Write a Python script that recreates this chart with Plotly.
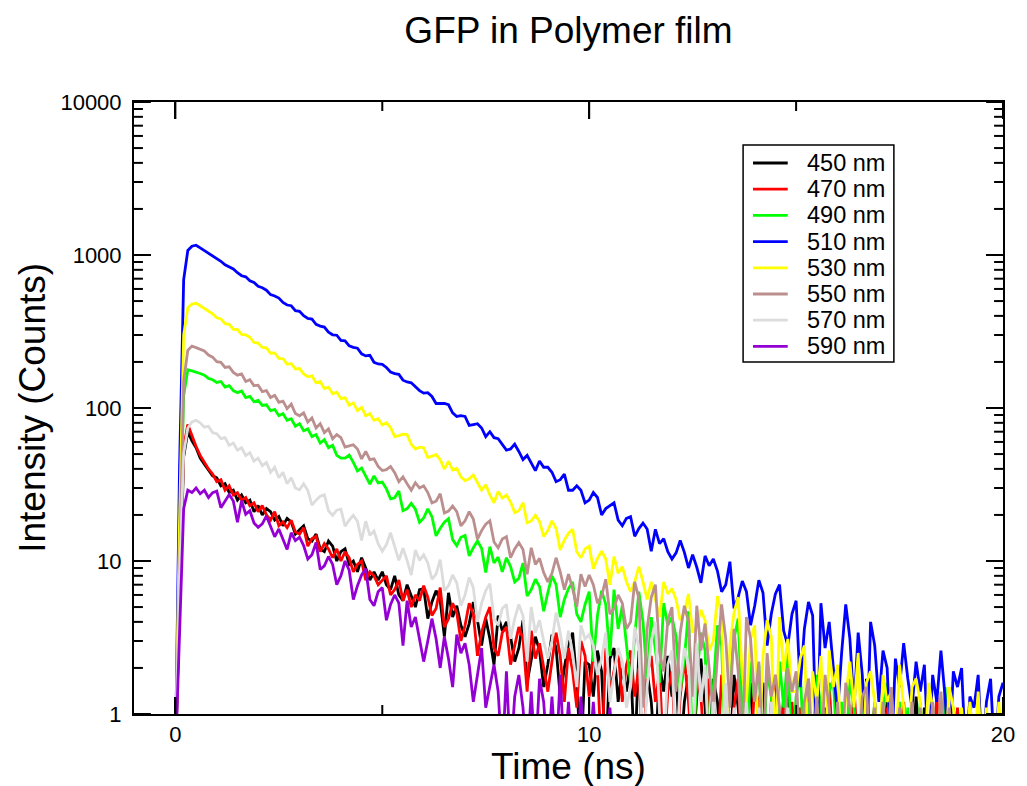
import plotly.graph_objects as go

# Time axis: channels start at 0 ns, one point every 0.1 ns
TIME_START_NS = 0.0
TIME_STEP_NS = 0.1

WAVELENGTHS = ["450 nm", "470 nm", "490 nm", "510 nm", "530 nm", "550 nm", "570 nm", "590 nm"]
COLORS = ["#000000", "#ff0000", "#00ff00", "#0000ff", "#ffff00", "#bc8f8f", "#dcdcdc", "#9400d3"]

# Intensity (counts) per channel; 0.5 marks empty channels (below the 1-count floor)
I_450 = [
    0.5, 5, 48, 70, 61, 55, 47, 43, 39, 36,
    35, 31, 32, 28, 29, 25, 27, 24, 25, 21,
    23, 20, 22, 21, 18.5, 19.5, 17, 19, 18, 15,
    16, 17, 14, 13.5, 15, 12, 11.5, 13.5, 12.5, 10,
    11.5, 12, 9.5, 10, 8.5, 10.5, 9, 7.5, 8.5, 7.5,
    8.5, 7, 6.5, 8, 6, 5.5, 7, 6, 5, 6.5,
    6.6, 4.2, 5.4, 6.4, 5.5, 3.2, 6.2, 4.3, 5.1, 3.8,
    3.2, 3.9, 5.4, 4.1, 2.8, 4.2, 3.1, 2.1, 4.4, 3.5,
    4, 3.2, 2.2, 2.7, 4.1, 1.6, 2.2, 3.2, 2.6, 1.5,
    2.1, 3.3, 2.7, 1.3, 2, 2.9, 3.4, 1.6, 0.5, 2.2,
    2.1, 1.3, 2.6, 1.9, 0.5, 2.3, 2.7, 1.2, 2, 1.4,
    2.2, 0.5, 2.6, 1.3, 1.9, 1.2, 0.5, 2.1, 1.4, 2.4,
    1.3, 1.9, 0.5, 1.2, 1.8, 0.5, 1.3, 2.3, 1.1, 0.5,
    1.7, 1.2, 0.5, 1.3, 0.5, 1.8, 1.1, 0.5, 1.2, 1.6,
    0.5, 1.2, 1.6, 0.5, 1.1, 0.5, 0.5, 1.3, 1.5, 0.5,
    1.1, 0.5, 0.5, 1.2, 0.5, 1.6, 0.5, 1.1, 0.5, 0.5,
    1.2, 0.5, 0.5, 0.5, 1.1, 0.5, 0.5, 1.7, 0.5, 1.1,
    0.5, 0.5, 1.2, 0.5, 0.5, 1.1, 0.5, 0.5, 0.5, 1.3,
    0.5, 1.1, 0.5, 0.5, 0.5, 1.2, 0.5, 0.5, 1.1, 0.5,
]
I_470 = [
    0.5, 6, 55, 78, 66, 56, 49, 44, 40, 37,
    33, 34, 29, 31, 27, 28, 25, 26, 23, 24,
    21, 23, 20, 18.5, 21, 17, 18, 16.5, 18.5, 15.5,
    15, 16.5, 12.5, 14, 14.5, 11.5, 13, 12, 10.5, 12,
    10, 11.5, 10.5, 8.5, 9.5, 10, 7.5, 8.5, 8, 7,
    7.5, 8, 6, 6.5, 7.5, 5.5, 6.5, 5, 6, 5.5,
    6.9, 5.8, 4.4, 4.9, 6.7, 3.7, 4.2, 5.3, 4.6, 3,
    3.8, 5.3, 4.5, 2.4, 3.4, 4.3, 5, 2.7, 2.4, 3.4,
    3.7, 2.1, 2.8, 3.7, 3.1, 1.4, 3.5, 2.3, 2.9, 2,
    1.4, 2.2, 3.4, 2.4, 1.2, 2.7, 1.9, 1.1, 3, 2.4,
    1.3, 2.5, 2, 0.5, 2.7, 1.4, 1.9, 2.6, 1.2, 2.1,
    2.6, 1.3, 2, 0.5, 1.8, 2.4, 1.2, 1.9, 0.5, 1.4,
    1.9, 0.5, 1.3, 2.3, 1.2, 0.5, 1.8, 1.3, 0.5, 1.7,
    1.2, 0.5, 1.8, 1.3, 0.5, 1.1, 1.7, 0.5, 1.2, 0.5,
    1.6, 1.1, 0.5, 0.5, 1.2, 1.8, 0.5, 1.1, 0.5, 1.2,
    0.5, 1.1, 0.5, 1.7, 0.5, 0.5, 1.2, 0.5, 1.6, 0.5,
    0.5, 1.1, 0.5, 0.5, 1.5, 0.5, 1.1, 0.5, 0.5, 1.2,
    0.5, 0.5, 1.1, 0.5, 0.5, 0.5, 1.2, 0.5, 0.5, 0.5,
    1.1, 0.5, 0.5, 0.5, 1.3, 0.5, 0.5, 0.5, 0.5, 1.1,
    0.5, 0.5, 1.2, 0.5, 0.5,
]
I_490 = [
    0.5, 12, 120, 178, 175, 172, 168, 164, 156, 153,
    147, 149, 137, 140, 130, 126, 129, 117, 119, 110,
    112, 104, 105, 96, 98, 89, 92, 83, 85, 76,
    79, 71, 73, 65, 67, 59, 62, 55, 57, 49,
    47, 47, 49.2, 44.1, 38.8, 40.5, 36, 31.8, 36, 32.4,
    32.8, 29.6, 25.5, 25.9, 28.7, 21.3, 22, 23.8, 21.8, 17.9,
    19.1, 21.9, 19.5, 14.6, 16.4, 17.9, 18.9, 13.8, 12.6, 14.3,
    14.7, 10.8, 12.2, 13.5, 12.1, 8.4, 12.4, 9.7, 10.6, 8.5,
    10.5, 9.2, 7.3, 7.7, 9.7, 5.9, 6.5, 7.6, 6.8, 4.7,
    6.2, 8, 7, 4.3, 5.6, 6.6, 7.3, 4.5, 4, 5.2,
    6.3, 2.2, 4.4, 6.4, 5.2, 2.4, 6.5, 3.6, 5.1, 2.8,
    1.6, 3.2, 6.3, 4, 1.7, 4.3, 2.6, 1.6, 5.3, 3.8,
    4.3, 3.2, 1.4, 2.3, 4.7, 0.5, 1.7, 3.4, 2.6, 0.5,
    1.5, 3.8, 2.8, 0.5, 1.6, 3.1, 4.2, 1.0, 0.5, 2.2,
    1.2, 2.1, 0.5, 1.9, 1.3, 0.5, 2.2, 1.1, 2.5, 0.5,
    1.3, 1.9, 0.5, 1.2, 0.5, 1.8, 1.1, 0.5, 1.4, 1.7,
    0.5, 1.2, 0.5, 1.7, 1.1, 0.5, 1.3, 0.5, 0.5, 1.2,
    0.5, 1.1, 1.6, 0.5, 0.5, 1.2, 0.5, 1.1, 0.5, 0.5,
    1.2, 0.5, 0.5, 1.1, 0.5, 0.5, 1.5, 0.5, 1.1, 0.5,
]
I_510 = [
    0.5, 40, 690, 1070, 1142, 1158, 1112, 1068, 1027, 976,
    948, 910, 862, 831, 811, 766, 732, 720, 679, 661,
    624, 611, 589, 551, 540, 523, 490, 471, 466, 433,
    428, 401, 385, 381, 352, 343, 338, 313, 301, 299,
    277, 275, 255, 249, 246, 226, 219, 221, 199, 194,
    193, 184, 172, 168, 166, 152, 148, 146, 138, 130,
    125, 126, 119, 107, 107, 107, 105, 93, 88, 89,
    88, 77, 78, 79, 74, 65, 70, 64, 63, 58,
    53, 54, 58, 52, 46, 49, 44, 39, 45, 41,
    41, 38, 33, 34, 37, 29, 29, 31, 29, 24,
    25, 28, 26, 20, 22, 23, 24, 18.5, 17, 19,
    19.5, 14.5, 16.3, 17.7, 16.2, 11.6, 16.1, 13, 14, 11.5,
    10.3, 11.3, 13.6, 11.4, 9, 11, 9.1, 7.2, 10.8, 9.3,
    10.3, 8.6, 6.3, 7, 9.9, 4.9, 5.8, 7.4, 6.3, 3.8,
    5.1, 7.5, 6.2, 2.8, 4.5, 6.1, 7, 3.5, 2.8, 4.5,
    5.5, 1.5, 3.6, 5.4, 4.4, 0.5, 5.3, 2.7, 4, 2,
    1, 2.5, 5.2, 3.1, 1.1, 3.4, 1.8, 0.5, 4, 2.8,
    1.2, 2.6, 2, 0.5, 2.3, 1.5, 2.9, 1.7, 1.1, 2.2,
    1.4, 2.1, 0.5, 1.8, 1.2, 2.6, 1.3, 0.5, 1.9, 1.5,
    2, 0.5, 1.3, 1.1, 1.8, 0.5, 1.2, 1.7, 0.5, 1.3,
    1.6,
]
I_530 = [
    0.5, 18, 300, 452, 478, 484, 466, 447, 426, 412,
    389, 382, 356, 352, 327, 326, 303, 301, 290, 268,
    266, 249, 247, 228, 229, 211, 210, 193, 195, 180,
    181, 167, 160, 162, 146, 149, 134, 137, 124, 127,
    115, 117, 104, 108, 96, 101, 89, 92, 83, 85,
    77.5, 80, 74.5, 65, 66, 67.5, 67, 58, 54, 55.5,
    55, 47.5, 48.5, 49.5, 46, 39.8, 45, 39.3, 40.3, 35.5,
    33.5, 34.5, 36.5, 32.5, 29, 31.5, 27, 24, 28.5, 25.8,
    27, 24.3, 20.7, 21.3, 24.1, 17.8, 18.3, 19.9, 18.1, 14.5,
    15.8, 18.3, 16.3, 11.8, 13.7, 15.2, 16.1, 11.5, 10.5, 12,
    12.5, 8.9, 10.4, 11.6, 10.3, 7, 10.7, 8.3, 9.2, 7.3,
    6.3, 7.3, 9.2, 7.3, 5.6, 7.3, 5.7, 4.3, 7.3, 6.1,
    6.6, 5.6, 4.1, 4.6, 6.1, 3.4, 3.8, 4.8, 4.1, 2.6,
    3, 5.9, 4.4, 0.5, 2.8, 4.6, 5.8, 1.8, 1.2, 3.1,
    3.8, 0.5, 2.4, 4.1, 3.2, 0.5, 4.3, 1.9, 3.1, 1.4,
    1.4, 2.3, 2.8, 0.5, 1.9, 1.2, 2.4, 0.5, 2.6, 1.5,
    2.1, 0.5, 1.3, 2.2, 1.1, 2.5, 0.5, 1.6, 1.9, 1.2,
    0.5, 1.8, 1.2, 1.4, 0.5, 2.1, 1.1, 0.5, 1.5, 1.7,
    1.2, 0.5, 1.6, 1.1, 0.5, 1.3, 0.5, 1.5, 1.1, 0.5,
    1.1, 0.5, 1.2, 0.5, 1.4, 0.5, 1.1, 0.5, 0.5, 1.2,
    0.5,
]
I_550 = [
    0.5, 10, 150, 238, 254, 248, 241, 236, 222, 215,
    201, 199, 184, 186, 171, 164, 167, 149, 153, 140,
    141, 128, 130, 117, 121, 109, 111, 99, 106, 92,
    89, 93, 81, 86, 74, 79, 69, 73, 63, 67,
    64, 55.5, 56.5, 57.5, 54, 46.5, 52, 46, 46.5, 41.5,
    39, 39.5, 41.5, 37.8, 33, 35.5, 32, 29, 32.5, 30,
    31, 28, 24, 24.6, 27.5, 20.6, 21.2, 22.9, 21, 17,
    18.3, 21, 18.8, 13.9, 15.8, 17.4, 18.3, 13.3, 12.2, 13.9,
    14.4, 10.5, 12, 13.2, 11.9, 8.2, 12.2, 9.5, 10.4, 8.4,
    7.3, 8.3, 10.5, 8.5, 6.5, 8.2, 6.6, 5, 8.2, 6.8,
    8.1, 7, 5.3, 5.9, 7.6, 4.5, 4.9, 6, 5.3, 3.6,
    4, 7.3, 5.7, 1.1, 3.6, 5.8, 7, 2.5, 1.9, 4.1,
    5, 1.4, 3.4, 5.1, 4, 1.3, 5.1, 2.6, 3.9, 1.9,
    1, 2.4, 5.2, 3.1, 1.1, 3.6, 1.9, 0.5, 4.3, 3.1,
    1.2, 2.2, 0.5, 2.5, 1.3, 1.8, 1.1, 0.5, 2, 1.4,
    1.9, 0.5, 1.2, 1.7, 0.5, 1.3, 0.5, 1.8, 1.1, 0.5,
    1.2, 0.5, 1.6, 1.1, 0.5, 0.5, 1.3, 1.5, 0.5, 1.1,
    0.5, 1.2, 0.5, 1.5, 0.5, 1.1, 0.5, 0.5, 1.2, 0.5,
    1.1, 0.5, 0.5, 1.2, 0.5, 1.4, 0.5, 1.1, 0.5, 0.5,
]
I_570 = [
    0.5, 8, 50, 74, 81, 83, 80, 75, 76, 69,
    68, 63, 64, 57, 59, 53, 55, 49, 51, 45,
    47, 42, 44, 38, 41, 35, 38, 32, 35, 30,
    29.2, 32, 29, 23.2, 25, 26.5, 27.1, 21.3, 19.9, 21.5,
    21.8, 16.9, 18.5, 19.9, 18.2, 13.6, 18.2, 14.7, 15.7, 13,
    11.6, 12.8, 15.3, 12.6, 10.1, 12.1, 10.1, 8.1, 11.8, 10.1,
    11, 9.7, 7.6, 8.2, 10.2, 6.4, 6.9, 8.1, 7.2, 5.1,
    6, 7.8, 6.7, 4, 5.3, 6.4, 7.1, 4.2, 3.8, 4.9,
    5.2, 3.1, 4.2, 5.2, 4.4, 2.2, 5, 3.4, 4.1, 3,
    2.3, 3, 4.6, 3.4, 2.3, 3.5, 2.5, 1.5, 3.8, 3.1,
    3.3, 2.8, 1.8, 2.3, 3.4, 1.2, 1.8, 2.7, 2.2, 1.1,
    1.5, 3.7, 2.7, 0.5, 1.5, 3, 4, 1.0, 0.5, 2.1,
    2.6, 0.5, 1.6, 2.7, 2.1, 0.5, 2.9, 1.2, 2.1, 0.5,
    1.2, 0.5, 0.5, 1.6, 0.5, 1.1, 0.5, 0.5, 1.2, 0.5,
    0.5, 1.1, 0.5, 0.5, 1.2, 0.5, 0.5, 0.5, 1.1, 0.5,
]
I_590 = [
    0.5, 3, 22, 29, 28, 30, 27.5, 29, 26, 28,
    28.6, 22.3, 24.7, 27.2, 24.7, 17.9, 24.8, 20.2, 21.3, 17.7,
    16.6, 17.5, 19.7, 16.9, 14.4, 16.2, 14, 11.9, 15.3, 13.6,
    14.3, 12.6, 10.3, 11, 13.2, 8.8, 9.3, 10.7, 9.5, 7,
    8, 10, 8.7, 5.6, 6.9, 8.1, 8.9, 5.6, 5.1, 6.3,
    6.7, 4.1, 5.2, 6, 5.3, 2.8, 5.5, 3.7, 4.3, 3.1,
    2.2, 3, 4.2, 3.1, 2, 3.2, 2.3, 1.5, 3.3, 2.5,
    2.9, 2.1, 1.2, 1.8, 2.7, 1.1, 1.5, 2.1, 1.4, 0.5,
    1.9, 0.5, 1.3, 1.8, 1.1, 0.5, 1.4, 0.5, 1.7, 1.2,
    0.5, 1.3, 0.5, 1.8, 0.5, 1.2, 0.5, 0.5, 1.3, 0.5,
    0.5, 1.2, 0.5, 0.5, 0.5, 1.1, 0.5,
]

SERIES = [I_450, I_470, I_490, I_510, I_530, I_550, I_570, I_590]

X_RANGE = [-1, 20]
Y_RANGE_LOG = [0, 4]
X_MAJOR_TICKS = [0, 10, 20]
X_MINOR_TICKS = [5, 15]
Y_MAJOR_TICKS = [1, 10, 100, 1000, 10000]
Y_MINOR_TICKS = [m * d for d in (1, 10, 100, 1000) for m in range(2, 10)]

FONT = "Liberation Sans, Arial, Helvetica, sans-serif"
W, H = 1027, 786
ML, MR, MT, MB = 134, 17, 102, 72
PW, PH = W - ML - MR, H - MT - MB
MAJOR_LEN, MINOR_LEN = 17, 9
LINE_W = 2.8


def px_x(px):
    return (px - ML) / PW


def px_y(py):
    return (H - MB - py) / PH


fig = go.Figure()
for name, color, ys in zip(WAVELENGTHS, COLORS, SERIES):
    fig.add_trace(go.Scatter(
        x0=TIME_START_NS, dx=TIME_STEP_NS, y=ys,
        mode="lines", name=name, showlegend=False,
        line=dict(color=color, width=LINE_W),
    ))

axis_common = dict(
    showline=True, linecolor="black", linewidth=2,
    mirror="allticks", ticks="inside", ticklen=MAJOR_LEN, tickwidth=2, tickcolor="black",
    showgrid=False, zeroline=False,
    tickfont=dict(family=FONT, size=22, color="black"),
)

fig.update_xaxes(range=X_RANGE, tickmode="array", tickvals=X_MAJOR_TICKS, **axis_common)
fig.update_yaxes(
    type="log", range=Y_RANGE_LOG, tickmode="array",
    tickvals=Y_MAJOR_TICKS, ticktext=[str(v) for v in Y_MAJOR_TICKS],
    ticklabelstandoff=6, **axis_common,
)

shapes = []
tick_line = dict(color="black", width=2)
# inward tick marks on all four sides (major and minor); y given in data units
for v, ln in [(v, MAJOR_LEN) for v in Y_MAJOR_TICKS] + [(v, MINOR_LEN) for v in Y_MINOR_TICKS]:
    shapes.append(dict(type="line", xref="paper", yref="y", x0=0, x1=ln / PW,
                       y0=v, y1=v, line=tick_line, layer="above"))
    shapes.append(dict(type="line", xref="paper", yref="y", x0=1 - ln / PW, x1=1,
                       y0=v, y1=v, line=tick_line, layer="above"))
for v, ln in [(v, MAJOR_LEN) for v in X_MAJOR_TICKS] + [(v, MINOR_LEN) for v in X_MINOR_TICKS]:
    shapes.append(dict(type="line", xref="x", yref="paper", x0=v, x1=v,
                       y0=0, y1=ln / PH, line=tick_line, layer="above"))
    shapes.append(dict(type="line", xref="x", yref="paper", x0=v, x1=v,
                       y0=1 - ln / PH, y1=1, line=tick_line, layer="above"))

# Legend drawn as a framed box with line samples and labels
shapes.append(dict(type="rect", xref="paper", yref="paper",
                   x0=px_x(748), x1=px_x(900), y0=px_y(362), y1=px_y(145),
                   line=dict(color="black", width=1.5), fillcolor="white", layer="above"))
annotations = []
LEG_ROW0, LEG_ROW_STEP = 163, 26.2
for i, (name, color) in enumerate(zip(WAVELENGTHS, COLORS)):
    yc = px_y(LEG_ROW0 + i * LEG_ROW_STEP)
    shapes.append(dict(type="line", xref="paper", yref="paper",
                       x0=px_x(758), x1=px_x(793), y0=yc, y1=yc,
                       line=dict(color=color, width=LINE_W), layer="above"))
    annotations.append(dict(text=name, xref="paper", yref="paper", x=px_x(810), y=yc,
                            xanchor="left", yanchor="middle", showarrow=False,
                            font=dict(family=FONT, size=23.5, color="black")))

annotations += [
    dict(text="Time (ns)", xref="paper", yref="paper", x=0.5, y=px_y(766),
         xanchor="center", yanchor="middle", showarrow=False,
         font=dict(family=FONT, size=37, color="black")),
    dict(text="Intensity (Counts)", xref="paper", yref="paper", x=px_x(31), y=0.5,
         xanchor="center", yanchor="middle", textangle=-90, showarrow=False,
         font=dict(family=FONT, size=37, color="black")),
]

fig.update_layout(
    width=W, height=H,
    margin=dict(l=ML, r=MR, t=MT, b=MB, pad=0),
    paper_bgcolor="white", plot_bgcolor="white",
    font=dict(family=FONT, color="black"),
    title=dict(text="GFP in Polymer film", x=0.5, xref="paper", xanchor="center",
               y=1 - 30 / H, yref="container", yanchor="middle",
               font=dict(family=FONT, size=37, color="black")),
    showlegend=False,
    shapes=shapes,
    annotations=annotations,
)

fig.write_html("out.html")
